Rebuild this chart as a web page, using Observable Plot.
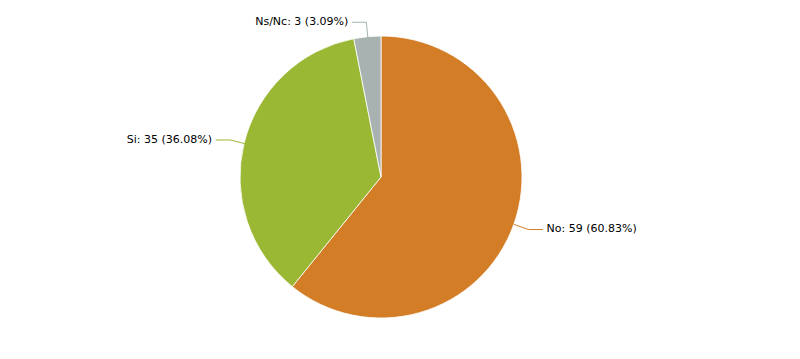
<!DOCTYPE html>
<html>
<head>
<meta charset="utf-8">
<script src="https://cdn.jsdelivr.net/npm/d3@7"></script>
<script src="https://cdn.jsdelivr.net/npm/@observablehq/plot@0.6"></script>
<style>
  html, body { margin: 0; padding: 0; background: #fff; }
  svg { display: block; }
</style>
</head>
<body>
<div id="chart"></div>
<script>
const categories = ["No", "Si", "Ns/Nc"];
const counts = [59, 35, 3];
const percents = ["60.83%", "36.08%", "3.09%"];
const colors = ["#d37d27", "#9bb834", "#a7b2b1"];

const W = 800, H = 359;
const cx = 381, cy = 177, R = 141;

const pie = d3.pie().sort(null).value(d => d.count);
const table = categories.map((c, i) => ({name: c, count: counts[i], pct: percents[i], color: colors[i]}));
const arcs = pie(table);

// label geometry derived from slice mid-angles
const labelDist = 15, tail = 14, gap = 4;
const labels = arcs.map(a => {
  const m = (a.startAngle + a.endAngle) / 2;
  const sx = Math.sin(m), sy = -Math.cos(m);
  const side = sx >= 0 ? 1 : -1;
  const p0 = [R * sx, R * sy];
  const ex = (R + labelDist) * sx, ey = (R + labelDist) * sy;
  const end = [ex + side * tail, ey];
  return {
    ...a.data, side,
    line: [p0, [ex, ey], end],
    tx: end[0] + side * gap, ty: ey
  };
});
const connectors = labels.flatMap(l => l.line.map(p => ({x: p[0], y: p[1], name: l.name, color: l.color})));

const sliceMark = (index, scales, values, dimensions) => {
  const ox = scales.x(0), oy = scales.y(0);
  const rr = scales.x(R) - scales.x(0);
  const arc = d3.arc().innerRadius(0).outerRadius(rr);
  const g = d3.create("svg:g").attr("transform", `translate(${ox},${oy})`);
  g.selectAll("path").data(arcs).join("path")
    .attr("d", arc)
    .attr("fill", d => d.data.color)
    .attr("stroke", "#fff")
    .attr("stroke-width", 0.8)
    .attr("stroke-linejoin", "round");
  return g.node();
};

const labelText = d => `${d.name}: ${d.count} (${d.pct})`;

const chart = Plot.plot({
  width: W, height: H,
  margin: 0,
  style: {fontFamily: "DejaVu Sans, sans-serif", fontSize: "11px", background: "#fff"},
  x: {domain: [-cx, W - cx], range: [0, W], axis: null},
  y: {domain: [-cy, H - cy], range: [0, H], axis: null},
  marks: [
    sliceMark,
    Plot.line(connectors, {x: "x", y: "y", z: "name", stroke: "color", strokeWidth: 1, curve: "linear"}),
    Plot.text(labels.filter(d => d.side > 0), {
      x: "tx", y: "ty", dy: -1, text: labelText, textAnchor: "start", fill: "#000", fontSize: 11
    }),
    Plot.text(labels.filter(d => d.side < 0), {
      x: "tx", y: "ty", dy: -1, text: labelText, textAnchor: "end", fill: "#000", fontSize: 11
    })
  ]
});

document.getElementById("chart").appendChild(chart);
</script>
</body>
</html>
